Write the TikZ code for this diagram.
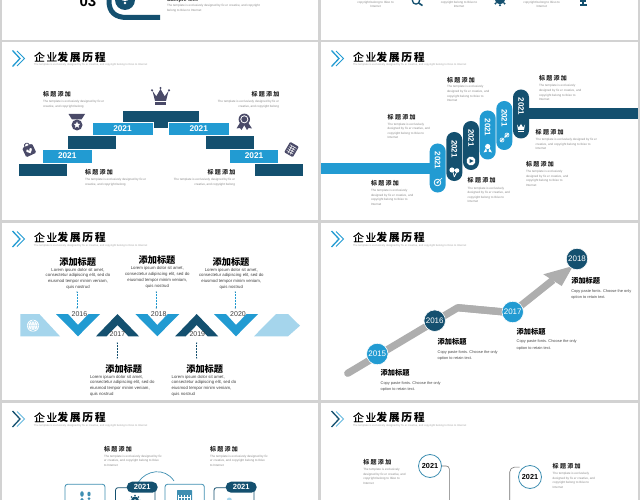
\documentclass[tikz,border=0pt]{standalone}
\usepackage{fontspec}
\setmainfont{Liberation Sans}
\newfontfamily\cjk{Noto Sans CJK SC}
\newfontfamily\cjkt[LetterSpace=16]{Noto Sans CJK SC}
\newfontfamily\cjktm[LetterSpace=16,FakeBold=0.5]{Noto Sans CJK SC}
\newfontfamily\cjkl[LetterSpace=22]{Noto Sans CJK SC}
\usetikzlibrary{shapes.geometric,shapes.misc}
\definecolor{bblue}{HTML}{229BD2}
\definecolor{ddark}{HTML}{14506F}
\definecolor{llight}{HTML}{A5D5EC}
\definecolor{icong}{HTML}{4A4A68}
\definecolor{pagebg}{HTML}{D2D2D2}
\definecolor{arrowg}{HTML}{AEAEAE}
\definecolor{smallg}{HTML}{8A8A8A}
\definecolor{boxblue}{HTML}{3F8FB2}
\tikzset{
 x=1pt,y=-1pt,
 txt/.style={inner sep=0pt,outer sep=0pt,align=left},
 headtitle/.style={txt,anchor=west,font=\fontsize{10.8}{12}\selectfont},
 headsub/.style={txt,anchor=west,text=black!35,font=\fontsize{2.7}{3}\selectfont},
 lab/.style={txt,font=\cjkl\bfseries\fontsize{6}{7}\selectfont,text=black!85},
 tiny/.style={txt,text=smallg,font=\fontsize{3.05}{4.6}\selectfont},
 bigt/.style={txt,anchor=center,font=\cjk\bfseries\fontsize{9.2}{10}\selectfont,text=black},
 lorem/.style={txt,align=center,text=black!75,font=\fontsize{4.3}{5.8}\selectfont},
 copyt/.style={txt,anchor=north west,text=black!70,font=\fontsize{3.9}{6.3}\selectfont},
 stepbox/.style={inner sep=0pt,outer sep=0pt,draw=white,line width=.3pt},
 stepyear/.style={txt,text=white,font=\bfseries\fontsize{8.3}{9}\selectfont},
 pillbox/.style={inner sep=0pt,outer sep=0pt,rounded corners=7.9pt,minimum width=16pt,minimum height=49pt},
 pillyear/.style={txt,rotate=-90,text=white,font=\bfseries\fontsize{8}{9}\selectfont},
 yr/.style={txt,text=black!75,font=\fontsize{7}{8}\selectfont},
 dotline/.style={densely dotted,line width=.5pt},
 ringyr/.style={circle,draw=white,line width=.6pt,minimum size=21.5pt,inner sep=0pt,text=white,font=\fontsize{8}{9}\selectfont},
 smallpill/.style={rounded corners=5.4pt,minimum width=31pt,minimum height=11pt,inner sep=0pt,fill=ddark,text=white,font=\bfseries\fontsize{7.5}{8}\selectfont},
 histring/.style={circle,draw=boxblue,fill=white,line width=.8pt,minimum size=23pt,inner sep=0pt,text=black,font=\bfseries\fontsize{7.3}{8}\selectfont},
}
\newcommand{\slidehead}[4]{%
 \draw[#3,line width=1.3pt,miter limit=10] (#1+.5,#2-8) -- (#1+8,#2) -- (#1+.5,#2+8);
 \draw[#4,line width=.9pt,miter limit=10] (#1+5,#2-7.5) -- (#1+12.5,#2) -- (#1+5,#2+7.5);
 \node[headtitle] at (#1+22,#2-1.5) {{\cjktm 企业}{\cjkt\bfseries 发展历程}};
 \node[headsub] at (#1+22,#2+6.7) {The template is exclusively designed by fix er creative, and copyright belong to Ibiso to Internet};
}
\newcommand{\stepr}[6]{\node[stepbox,fill=#6,minimum width=#4pt-#2pt,minimum height=#5pt-#3pt,anchor=north west] (#1) at (#2,#3) {};}
\newcommand{\pill}[6]{%
 \node[pillbox,fill=#4] (#1) at (#2,#3) {};
 \node[pillyear] at (#2,#3-7.5) {2021};
}
\begin{document}
\begin{tikzpicture}
\useasboundingbox (0,0) rectangle (640,500);
\clip (0,0) rectangle (640,500);
\fill[pagebg] (0,0) rectangle (640,500);
% panels
\fill[white] (2,0) rectangle (318,40);
\fill[white] (321,0) rectangle (638,40);
\fill[white] (2,42) rectangle (318,220);
\fill[white] (321,42) rectangle (638,220);
\fill[white] (2,223) rectangle (318,400);
\fill[white] (321,223) rectangle (638,400);
\fill[white] (2,403) rectangle (318,500);
\fill[white] (321,403) rectangle (638,500);

% top left remnant
\node[txt,font=\bfseries\fontsize{15}{16}\selectfont] (n03) at (88,1) {03};
\draw[ddark,line width=5pt] (109,-2) -- (109,1) .. controls (109,12) and (115,17.5) .. (127,17.5) -- (160,17.5);
\fill[ddark] (125,0) circle (10pt);
\draw[white,line width=.8pt] (121,-1) .. controls (123,1) and (127,1) .. (129,-1);
\fill[white] (125,3) circle (1.3pt);
\node[txt,anchor=west,font=\bfseries\fontsize{5.5}{6}\selectfont,text=black!80] (t0a) at (167,0) {Sample text};
\node[tiny,anchor=north west] (t0b) at (167,4.7) {The template is exclusively designed by fix er creative, and copyright\\belong to Ibiso to Internet};

% top right remnant
\foreach \nm/\cx in {a/375.6,b/459,c/541.7}
 \node[tiny,align=center,anchor=center] (t0\nm) at (\cx,4.3) {copyright belong to Ibiso to\\Internet};
\draw[ddark,line width=1.3pt] (416,0.5) circle (3.6pt);
\draw[ddark,line width=1.6pt] (418.7,3) -- (422.5,5.6);
\fill[ddark] (500,-1) circle (5.3pt);
\foreach \a in {0,45,...,315} \fill[ddark] (500,-1) ++(\a:6.3pt) circle (1.1pt);
\fill[ddark] (580,-1) rectangle (586,2.5);
\fill[ddark] (582.2,2) rectangle (583.8,4.5);
\fill[ddark] (579.5,4.5) rectangle (586.5,5.7);

%% SLIDE 1
\slidehead{12}{58.5}{bblue}{bblue}
\stepr{s1}{122.5}{110}{199}{128.5}{ddark}
\stepr{s2}{18}{163}{67}{176}{ddark}
\stepr{s3}{67.5}{135.5}{116.5}{149}{ddark}
\stepr{s4}{205}{135.5}{254}{149}{ddark}
\stepr{s5}{254}{163}{303}{176}{ddark}
\stepr{b1}{42.5}{149}{92}{163}{bblue}
\stepr{b2}{92}{122}{153}{135.5}{bblue}
\stepr{b3}{168.5}{122}{229}{135.5}{bblue}
\stepr{b4}{229.5}{149}{278.5}{163}{bblue}
\node[stepyear] at (b1) {2021};
\node[stepyear] at (b2) {2021};
\node[stepyear] at (b3) {2021};
\node[stepyear] at (b4) {2021};
% labels
\node[lab,anchor=west] (l1) at (43,94) {标题添加};
\node[tiny,anchor=north west] (l1t) at (43,100.3) {The template is exclusively designed by fix er\\creative, and copyright belong};
\node[lab,anchor=east] (l2) at (279.5,94) {标题添加};
\node[tiny,anchor=north east,align=right] (l2t) at (279,100.3) {The template is exclusively designed by fix er\\creative, and copyright belong};
\node[lab,anchor=west] (l3) at (85,172) {标题添加};
\node[tiny,anchor=north west] (l3t) at (85,178.3) {The template is exclusively designed by fix er\\creative, and copyright belong};
\node[lab,anchor=east] (l4) at (235.5,172) {标题添加};
\node[tiny,anchor=north east,align=right] (l4t) at (235,178.3) {The template is exclusively designed by fix er\\creative, and copyright belong};
% crown
\fill[icong] (152.5,91) -- (156.3,96.3) -- (160.5,89) -- (164.7,96.3) -- (168.5,91) -- (166,101) -- (155,101) -- cycle;
\fill[icong] (152,90.3) circle (1.2pt) (160.5,88) circle (1.2pt) (169,90.3) circle (1.2pt);
\fill[icong] (155,102.3) rectangle (166,104.7);
% medal
\fill[icong] (68.5,114) -- (85,114) -- (81.5,119.5) -- (72,119.5) -- cycle;
\fill[icong] (77,125) circle (5.5pt);
\node[star,star points=5,star point ratio=2.2,fill=white,inner sep=0pt,minimum size=7pt] (medalstar) at (77,125) {};
% ribbon
\fill[icong] (241,121) -- (236.5,128.5) -- (240,128) -- (241.5,130) -- (245,124) -- cycle;
\fill[icong] (247,121) -- (252,128.5) -- (248.5,128) -- (247,130) -- (243.5,124) -- cycle;
\fill[icong] (244.3,119.3) circle (5.7pt);
\fill[white] (244.3,119.3) circle (4pt);
\fill[icong] (244.3,119.3) circle (3pt);
% lock
\begin{scope}[shift={(29,150)},rotate=25]
 \draw[icong,line width=.9pt] (0,-5) circle (2.4pt);
 \fill[icong,rounded corners=1.2pt] (-5.5,-4.5) rectangle (5.5,5.5);
 \fill[white] (-1.7,0) circle (1.4pt) (1.7,0) circle (1.4pt);
 \fill[white] (-3,.6) -- (3,.6) -- (0,3.6) -- cycle;
\end{scope}
% calculator
\begin{scope}[shift={(291.5,149.5)},rotate=-30]
 \fill[icong,rounded corners=1pt] (-5,-6) rectangle (5,6);
 \foreach \yy in {-3.4,-1.2,1,3.2} \draw[white,line width=.5pt] (-3.7,\yy) -- (3.7,\yy);
 \foreach \xx in {-1.3,1.3} \draw[white,line width=.5pt] (\xx,-3.4) -- (\xx,5);
\end{scope}

%% SLIDE 2
\slidehead{331}{58.5}{bblue}{bblue}
\fill[bblue] (321,163) rectangle (431,173.8);
\fill[ddark] (528,108.5) rectangle (638,119);
\pill{p1}{437.7}{168}{bblue}{}{}
\pill{p2}{454.3}{156.5}{ddark}{}{}
\pill{p3}{471}{145.5}{ddark}{}{}
\pill{p4}{487.7}{135}{bblue}{}{}
\pill{p5}{504.3}{125.5}{bblue}{}{}
\pill{p6}{521}{114}{ddark}{}{}
% pill icons
\draw[white,line width=.8pt] (437.5,182.5) circle (3.3pt);
\fill[white] (437.5,182.5) circle (1.2pt);
\draw[white,line width=.7pt] (438,182) -- (442,178);
\fill[white] (452,170) circle (2.6pt) (457,170.5) circle (2.3pt);
\draw[white,line width=.7pt] (453,172) -- (454.3,177) (456.7,172) -- (454.3,177);
\node[regular polygon,regular polygon sides=8,fill=white,minimum size=9pt,inner sep=0pt] (gearp) at (471,161) {};
\fill[ddark] (469.5,159) -- (473.5,161) -- (469.5,163) -- cycle;
\fill[white] (487.7,146.5) circle (2.6pt);
\fill[white] (486,148) -- (483.5,152.5) -- (487,151.5) -- cycle;
\fill[white] (489.5,148) -- (492,152.5) -- (488.5,151.5) -- cycle;
\draw[white,line width=1.1pt] (500.5,141.5) -- (503.3,138.7);
\draw[white,line width=1.1pt] (504.5,137.5) -- (508.5,133.5);
\draw[white,line width=.6pt] (502,140) circle (2pt) (507,135) circle (2pt);
\fill[white] (517,124.5) -- (518.8,127.5) -- (521,124) -- (523.2,127.5) -- (525,124.5) -- (524,130) -- (518,130) -- cycle;
\fill[white] (518,130.7) rectangle (524,132);
% labels
\node[lab,anchor=west] (m1) at (447,80) {标题添加};
\node[tiny,anchor=north west] (m1t) at (447,85.7) {The template is exclusively\\designed by fix er creative, and\\copyright belong to Ibiso to\\Internet};
\node[lab,anchor=west] (m2) at (539,78) {标题添加};
\node[tiny,anchor=north west] (m2t) at (539,84.7) {The template is exclusively\\designed by fix er creative, and\\copyright belong to Ibiso to\\Internet};
\node[lab,anchor=west] (m3) at (387.7,117) {标题添加};
\node[tiny,anchor=north west] (m3t) at (387.7,122.8) {The template is exclusively\\designed by fix er creative, and\\copyright belong to Ibiso to\\Internet};
\node[lab,anchor=west] (m4) at (535.7,132) {标题添加};
\node[tiny,anchor=north west] (m4t) at (535.7,138.3) {The template is exclusively designed by fix er\\creative, and copyright belong to Ibiso to\\Internet};
\node[lab,anchor=west] (m5) at (526,164.3) {标题添加};
\node[tiny,anchor=north west] (m5t) at (526,170.3) {The template is exclusively\\designed by fix er creative, and\\copyright belong to Ibiso to\\Internet};
\node[lab,anchor=west] (m6) at (467.7,180.7) {标题添加};
\node[tiny,anchor=north west] (m6t) at (467.7,186.8) {The template is exclusively\\designed by fix er creative, and\\copyright belong to Ibiso to\\Internet};
\node[lab,anchor=west] (m7) at (371,183) {标题添加};
\node[tiny,anchor=north west] (m7t) at (371,189.3) {The template is exclusively\\designed by fix er creative, and\\copyright belong to Ibiso to\\Internet};

%% SLIDE 3
\slidehead{12}{239}{bblue}{bblue}
\fill[llight] (20.3,314) -- (39.3,314) -- (60,336.3) -- (20.3,336.3) -- cycle;
\fill[white] (33,325.7) circle (6pt);
\draw[llight,line width=.4pt] (33,325.7) circle (5pt) (27.5,325.7) -- (38.5,325.7) (33,320) -- (33,331.5);
\draw[llight,line width=.4pt] (33,320) .. controls (30,323) and (30,328) .. (33,331.5) (33,320) .. controls (36,323) and (36,328) .. (33,331.5);
\fill[llight] (254,336.3) -- (276,314) -- (288,314) -- (300,325.7) -- (288,336.3) -- cycle;
\foreach \c in {78,157.3,236}
 \fill[bblue] (\c-22,314) -- (\c-10,314) -- (\c,325) -- (\c+10.5,314) -- (\c+22,314) -- (\c,336.3) -- cycle;
\foreach \c in {117.5,196.7}
 \fill[ddark] (\c-21.5,336.3) -- (\c,314) -- (\c+21.5,336.3) -- (\c+11,336.3) -- (\c,325) -- (\c-11,336.3) -- cycle;
\node[yr] (y16) at (79.5,314) {2016};
\node[yr] (y17) at (117.5,333.7) {2017};
\node[yr] (y18) at (158.7,314) {2018};
\node[yr] (y19) at (197.3,333.7) {2019};
\node[yr] (y20) at (238,314) {2020};
\node[bigt] (a1) at (77.7,261.7) {添加标题};
\node[lorem,anchor=north] (a1t) at (78,268) {Lorem ipsum dolor sit amet,\\consectetur adipiscing elit, sed do\\eiusmod tempor minim veniam,\\quis nostrud};
\node[bigt] (a2) at (157,260.3) {添加标题};
\node[lorem,anchor=north] (a2t) at (157.3,266.7) {Lorem ipsum dolor sit amet,\\consectetur adipiscing elit, sed do\\eiusmod tempor minim veniam,\\quis nostrud};
\node[bigt] (a3) at (231,261.7) {添加标题};
\node[lorem,anchor=north] (a3t) at (231.3,268) {Lorem ipsum dolor sit amet,\\consectetur adipiscing elit, sed do\\eiusmod tempor minim veniam,\\quis nostrud};
\node[bigt] (a4) at (123.7,368.7) {添加标题};
\node[lorem,anchor=north west,align=left] (a4t) at (90,375) {Lorem ipsum dolor sit amet,\\consectetur adipiscing elit, sed do\\eiusmod tempor minim veniam,\\quis nostrud};
\node[bigt] (a5) at (204.7,368.7) {添加标题};
\node[lorem,anchor=north west,align=left] (a5t) at (171.7,375) {Lorem ipsum dolor sit amet,\\consectetur adipiscing elit, sed do\\eiusmod tempor minim veniam,\\quis nostrud};
% dotted connectors
\coordinate (d1a) at (77,292); \coordinate (d1b) at (77,308);
\coordinate (d2a) at (156.3,292); \coordinate (d2b) at (156.3,308);
\coordinate (d3a) at (235.3,292); \coordinate (d3b) at (235.3,308);
\coordinate (d4a) at (117.3,343); \coordinate (d4b) at (117.3,358);
\coordinate (d5a) at (196.7,343); \coordinate (d5b) at (196.7,358);
\foreach \p/\q in {d1a/d1b,d2a/d2b,d3a/d3b}{
 \draw[dotline,bblue] (\p) -- (\q);
 \fill[ddark!50!bblue] (\p) circle (.6pt) (\q) circle (.6pt);}
\foreach \p/\q in {d4a/d4b,d5a/d5b}{
 \draw[dotline,ddark] (\p) -- (\q);
 \fill[ddark] (\p) circle (.6pt) (\q) circle (.6pt);}

%% SLIDE 4
\slidehead{331}{239}{bblue}{bblue}
\coordinate (r0) at (347.7,373.3);
\coordinate (rk) at (457.7,307.7);
\coordinate (rm) at (512,312.7);
\coordinate (rh) at (553,280);
\draw[arrowg,line width=7.2pt,line cap=round,line join=round] (r0) -- (rk) -- (rm);
\draw[arrowg,line width=7.2pt,line join=round] (rk) -- (rm) -- (rh);
\fill[arrowg] (543.3,274.3) -- (573,266) -- (561.7,286) -- cycle;
\node[ringyr,fill=bblue] (c15) at (377.3,354) {2015};
\node[ringyr,fill=ddark] (c16) at (434.7,320.7) {2016};
\node[ringyr,fill=bblue] (c17) at (512.7,312) {2017};
\node[ringyr,fill=ddark] (c18) at (577,259) {2018};
\newcommand{\copyb}[4]{%
 \node[bigt,anchor=west,font=\cjk\bfseries\fontsize{7.2}{8}\selectfont] (#1) at (#2,#3) {添加标题};
 \node[copyt] (#1t) at (#2,#4) {Copy paste fonts. Choose the only\\option to retain text.};}
\copyb{q1}{380.7}{372.7}{381.7}
\copyb{q2}{437.7}{341.7}{350.4}
\copyb{q3}{516.7}{331.7}{340}
\copyb{q4}{571.3}{281}{289.4}

%% SLIDE 5
\slidehead{12}{419}{ddark}{bblue!70!white}
\node[lab,anchor=west] (e1) at (104,449) {标题添加};
\node[tiny,anchor=north west] (e1t) at (104,455) {The template is exclusively designed by fix\\er creative, and copyright belong to Ibiso\\to Internet};
\node[lab,anchor=west] (e2) at (210,449) {标题添加};
\node[tiny,anchor=north west] (e2t) at (210,455) {The template is exclusively designed by fix\\er creative, and copyright belong to Ibiso\\to Internet};
\draw[boxblue,line width=.7pt] (138.3,482.3) .. controls (146,470) and (165,467) .. (174,481);
\draw[boxblue,line width=.8pt,rounded corners=2.5pt] (65,505) |- (105,484.3) -- (105,505) ;
\draw[ddark,line width=.8pt,rounded corners=2.5pt] (115.5,505) |- (155,487.7) -- (155,505);
\draw[boxblue,line width=.8pt,rounded corners=2.5pt] (165,505) |- (204.3,484.3) -- (204.3,505);
\draw[ddark,line width=.8pt,rounded corners=2.5pt] (214,505) |- (254,487.7) -- (254,505);
\node[smallpill] (f1) at (142.2,487.2) {2021};
\node[smallpill] (f2) at (241.2,487.2) {2021};
\fill[boxblue] (82,494) ellipse (1.8pt and 2.8pt) (89,494) ellipse (1.6pt and 2.4pt) (82,499.5) circle (1.6pt) (89,498.5) circle (1.5pt);
\fill[ddark] (135,500.5) circle (4pt);
\foreach \a in {0,45,...,315} \fill[ddark] (135,500.5) ++(\a:5pt) circle (.9pt);
\fill[white] (135,500.5) circle (1.4pt);
\fill[boxblue,rounded corners=.6pt] (177,490) rectangle (192,506);
\fill[white] (178.3,494.5) rectangle (190.7,505);
\foreach \xx in {180,183,186,189} \foreach \yy in {496,499} \fill[boxblue] (\xx-.8,\yy-.8) rectangle (\xx+.8,\yy+.8);
\fill[llight] (229.3,500) circle (2.5pt);

%% SLIDE 6
\slidehead{331}{419}{ddark}{bblue!70!white}
\node[lab,anchor=west] (g1) at (363.3,462) {标题添加};
\node[tiny,anchor=north west] (g1t) at (363.3,468.3) {The template is exclusively\\designed by fix er creative, and\\copyright belong to Ibiso to\\Internet};
\node[lab,anchor=west] (g2) at (552.7,466) {标题添加};
\node[tiny,anchor=north west] (g2t) at (552.7,472.3) {The template is exclusively\\designed by fix er creative, and\\copyright belong to Ibiso to\\Internet};
\node[histring] (h1) at (430,466) {2021};
\node[histring] (h2) at (530,477) {2021};
\coordinate (h1e) at (449.3,505);
\coordinate (h2e) at (509.7,505);
\draw[black!55,line width=.6pt,rounded corners=3pt] (h1.east) -| (h1e);
\draw[black!55,line width=.6pt,rounded corners=5pt] (h2.north west) ++(-2,-1.5) coordinate (h2s) -| (h2e);
\end{tikzpicture}
\end{document}
